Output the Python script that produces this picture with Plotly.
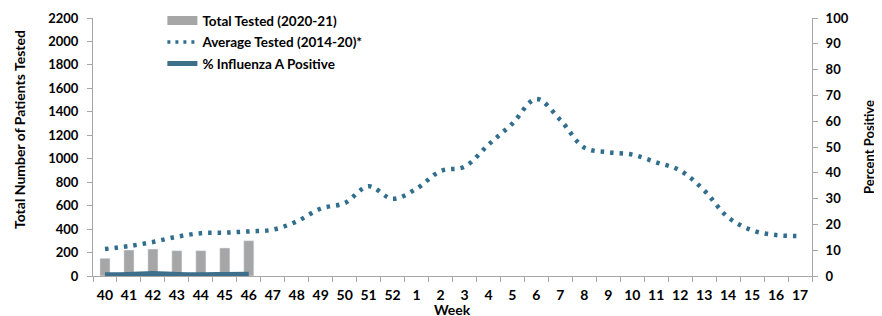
import plotly.graph_objects as go

weeks = ["40","41","42","43","44","45","46","47","48","49","50","51","52",
         "1","2","3","4","5","6","7","8","9","10","11","12","13","14","15","16","17"]
total_tested = [151, 222, 230, 216, 216, 239, 301]
avg_tested = [230, 255, 290, 335, 365, 370, 380, 395, 465, 575, 622, 765, 658,
              745, 895, 932, 1120, 1300, 1510, 1330, 1095, 1055, 1035, 970, 900,
              730, 500, 390, 349, 340]
flu_a_pct = [0.5, 0.6, 1.0, 0.6, 0.5, 0.6, 0.7]

left_ticks = list(range(0, 2201, 200))
right_ticks = list(range(0, 101, 10))

FONT = "Lato"
BAR = "#a6a6a6"
BLUE = "#316e8e"
LINE = "#3d6e8a"
AX = "#a6a6a6"

fig = go.Figure()
fig.add_trace(go.Bar(x=weeks[:len(total_tested)], y=total_tested, marker_color=BAR,
                     showlegend=False, yaxis="y"))
fig.add_trace(go.Scatter(x=weeks, y=avg_tested, mode="lines",
                         line=dict(color=BLUE, width=4.5, dash="3.5px,6px", shape="spline"),
                         showlegend=False, yaxis="y"))
fig.add_trace(go.Scatter(x=weeks[:len(flu_a_pct)], y=flu_a_pct, mode="lines",
                         line=dict(color=LINE, width=5, shape="spline"), showlegend=False, yaxis="y2"))
# legend entries
fig.add_trace(go.Scatter(x=[None], y=[None], mode="lines", name="Total Tested (2020-21)",
                         line=dict(color=BAR, width=9), legendgroup="a"))
fig.add_trace(go.Scatter(x=[None], y=[None], mode="lines", name="Average Tested (2014-20)*",
                         line=dict(color=BLUE, width=3.5, dash="3px,5px"), legendgroup="b"))
fig.add_trace(go.Scatter(x=[None], y=[None], mode="lines", name="% Influenza A Positive",
                         line=dict(color=LINE, width=5), legendgroup="c", yaxis="y2"))

fig.update_layout(
    width=874, height=308,
    margin=dict(l=85, r=70, t=10, b=40, autoexpand=False),
    paper_bgcolor="white", plot_bgcolor="white",
    font=dict(family=FONT, size=14, color="black"),
    bargap=0.58,
    legend=dict(x=0.0965, y=1.05, xanchor="left", yanchor="top", bgcolor="rgba(0,0,0,0)",
                font=dict(family=FONT, size=13.5, color="black", weight="bold"),
                tracegroupgap=1, itemwidth=30),
    xaxis=dict(type="category", categoryorder="array", categoryarray=weeks,
               showline=True, linecolor=AX, linewidth=1, ticks="outside", tickson="boundaries",
               tickcolor=AX, ticklen=5, showgrid=False, tickangle=0, automargin=False,
               ticklabelstandoff=6,
               tickfont=dict(family=FONT, size=14, weight="bold"),
               range=[-0.5, len(weeks) - 0.5]),
    yaxis=dict(range=[0, 2200], tickvals=left_ticks, showline=True, linecolor=AX, linewidth=1,
               ticks="outside", tickcolor=AX, ticklen=5, showgrid=False, zeroline=False, automargin=False,
               ticklabelstandoff=6,
               tickfont=dict(family=FONT, size=13, weight="bold")),
    yaxis2=dict(range=[0, 100], tickvals=right_ticks, overlaying="y", side="right", showline=True,
                linecolor=AX, linewidth=1, ticks="outside", tickcolor=AX, ticklen=5,
                showgrid=False, zeroline=False, automargin=False, ticklabelstandoff=5,
                tickfont=dict(family=FONT, size=13, weight="bold"),
                title=dict(text="Percent Positive", font=dict(family=FONT, size=13, weight="bold"), standoff=17)),
    annotations=[
        dict(text="Total Number of Patients Tested", xref="paper", yref="paper",
             x=-0.1015, y=0.566, xanchor="center", yanchor="middle", textangle=-90,
             showarrow=False, font=dict(family=FONT, size=14, weight="bold")),
        dict(text="Week", xref="paper", yref="paper", x=0.5, y=-0.128,
             xanchor="center", yanchor="middle", showarrow=False,
             font=dict(family=FONT, size=14, weight="bold")),
    ],
)
fig.write_html("out.html")
